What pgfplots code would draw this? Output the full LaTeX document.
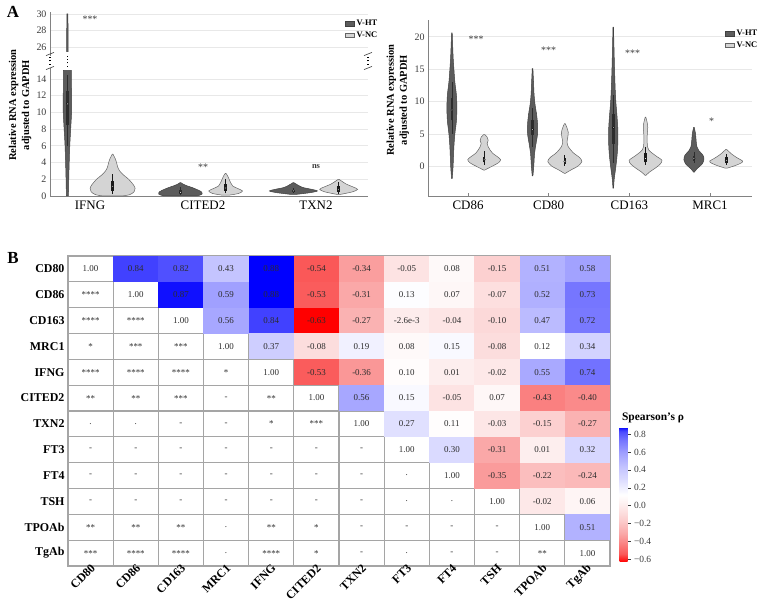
\documentclass[border=0pt]{standalone}
\usepackage{fontspec}
\setmainfont{Liberation Serif}
\usepackage{pgfplots}
\pgfplotsset{compat=1.18}
\usepackage{pgfplotstable}
\usepgfplotslibrary{fillbetween}

\definecolor{htfill}{RGB}{92,92,92}
\definecolor{htline}{RGB}{64,64,64}
\definecolor{htbox}{RGB}{45,45,45}
\definecolor{ncfill}{RGB}{212,212,212}
\definecolor{ncline}{RGB}{100,100,100}
\definecolor{ncbox}{RGB}{25,25,25}
\definecolor{tickgray}{RGB}{60,60,60}
\definecolor{spine}{RGB}{130,130,130}
\definecolor{gridgray}{RGB}{232,232,232}
\definecolor{cellline}{RGB}{165,165,165}
\definecolor{celltext}{RGB}{45,45,45}

% one heat-map cell, centred on its data point
\pgfdeclareplotmark{cell}{%
  \pgfpathrectangle{\pgfpoint{-22.6bp}{-12.95bp}}{\pgfpoint{45.2bp}{25.9bp}}%
  \pgfusepathqfill}

\pgfplotsset{
  colormap={rho}{rgb255(0pt)=(255,0,0) rgb255(9pt)=(250,88,88) rgb255(20pt)=(250,128,128)
    rgb255(32pt)=(250,168,168) rgb255(48pt)=(252,208,208) rgb255(63pt)=(253,236,236)
    rgb255(75pt)=(255,255,255) rgb255(93pt)=(218,218,255) rgb255(106pt)=(196,196,255)
    rgb255(122pt)=(160,160,255) rgb255(136pt)=(118,118,255) rgb255(145pt)=(80,80,255)
    rgb255(147pt)=(65,65,255) rgb255(151pt)=(0,0,255)},
  /pgf/number format/assume math mode=true,
  violinaxis/.style={
    scale only axis, anchor=south west,
    axis x line*=bottom, axis y line*=left,
    axis line style={spine, line width=0.6bp, -},
    ymajorgrids, grid style={gridgray, line width=0.7bp},
    xticklabel style={font=\fontsize{13}{14}\selectfont, text=black, yshift=-1bp},
    yticklabel style={font=\fontsize{10}{12}\selectfont, text=tickgray},
    ytick style={draw=none},
    xtick style={spine, line width=0.6bp}, xtick align=inside, major tick length=3bp,
    ylabel style={font=\bfseries\fontsize{10.5}{13}\selectfont, align=center, anchor=center},
    legend image code/.code={\draw[##1] (0bp,-2.3bp) rectangle (9bp,2.3bp);},
    legend style={draw=none, fill=none, font=\bfseries\fontsize{8.5}{9}\selectfont,
      inner sep=0pt, row sep=0.5bp, anchor=north west},
    legend cell align=left,
  },
}

% violin body: centre, profile table (y, half width), fill, outline, id
\newcommand{\violin}[5]{%
  \addplot[draw=none, smooth, name path=vr#5, forget plot] table[x expr={#1+\thisrow{w}}, y=y] {#2};
  \addplot[draw=none, smooth, name path=vl#5, forget plot] table[x expr={#1-\thisrow{w}}, y=y] {#2};
  \addplot[fill=#3, draw=#4, line width=0.5bp, forget plot] fill between[of=vr#5 and vl#5, reverse=true];
}
% inner box: centre, whisker low, q1, median, q3, whisker high, colour
\newcommand{\innerbox}[7]{%
  \addplot[#7, line width=0.7bp, forget plot] coordinates {(#1,#2) (#1,#6)};
  \addplot[#7, line width=2.6bp, forget plot] coordinates {(#1,#3) (#1,#5)};
  \addplot[only marks, mark=*, mark size=1.1bp, draw=none, fill=white, forget plot] coordinates {(#1,#4)};
}
% break symbol on a vertical spine at picture x position #1
\newcommand{\axisbreak}[1]{%
  \draw[tickgray, line width=0.6bp] (#1-4,538.4) -- (#1+4,541.6);
  \draw[tickgray, line width=0.6bp] (#1-4,552.4) -- (#1+4,555.6);
  \draw[black, line width=1.4bp, dash pattern=on 1.3bp off 2.2bp] (#1,543) -- (#1,552);
}

% ---------- violin profiles, left panel ----------
\pgfplotstableread{
y w
0 0.009
2 0.012
4 0.016
6 0.021
8 0.029
10 0.037
12 0.037
14 0.035
15 0.035
}\vIFNGht
\pgfplotstableread{
y w
25.5 0.006
28 0.006
30 0.004
}\vIFNGhtTop
\pgfplotstableread{
y w
0 0.08
0.15 0.15
0.5 0.19
0.9 0.199
1.3 0.186
2 0.142
2.5 0.097
3 0.062
3.5 0.044
4 0.035
4.5 0.022
5 0.003
}\vIFNGnc
\pgfplotstableread{
y w
0.02 0.15
0.2 0.19
0.5 0.186
0.8 0.142
1.0 0.106
1.2 0.062
1.4 0.027
1.6 0.003
}\vCITEDht
\pgfplotstableread{
y w
0.1 0.03
0.3 0.115
0.6 0.15
0.9 0.106
1.2 0.062
1.6 0.044
2.0 0.031
2.4 0.018
2.7 0.003
}\vCITEDnc
\pgfplotstableread{
y w
0.2 0.03
0.4 0.15
0.6 0.212
0.8 0.16
1.0 0.088
1.2 0.053
1.4 0.027
1.6 0.003
}\vTXNht
\pgfplotstableread{
y w
0.2 0.02
0.5 0.124
0.8 0.168
1.1 0.124
1.4 0.071
1.7 0.035
2.0 0.003
}\vTXNnc

% ---------- violin profiles, right panel ----------
\pgfplotstableread{
y w
-1.9 0.004
0 0.015
3 0.025
5 0.037
7 0.056
9 0.062
11 0.056
13 0.037
15 0.025
17 0.015
20.6 0.004
}\vCDEht
\pgfplotstableread{
y w
-0.6 0.006
0 0.099
0.5 0.173
1 0.204
1.5 0.161
2 0.105
2.5 0.074
3 0.05
3.5 0.037
4 0.05
4.5 0.037
4.9 0.006
}\vCDEnc
\pgfplotstableread{
y w
-1.5 0.004
0 0.015
2 0.025
3.5 0.043
5 0.062
6.5 0.062
8 0.05
9.5 0.031
11 0.019
13 0.012
15.1 0.004
}\vCDOht
\pgfplotstableread{
y w
-1.1 0.006
-0.5 0.087
0 0.161
0.7 0.211
1.3 0.186
2 0.112
2.5 0.074
3 0.043
3.7 0.027
4.5 0.037
5.2 0.043
6 0.025
6.6 0.004
}\vCDOnc
\pgfplotstableread{
y w
-3.4 0.004
-2 0.012
0 0.033
2 0.05
4 0.058
6 0.056
8 0.045
10 0.032
12 0.024
15 0.016
18 0.01
21.5 0.003
}\vCDTht
\pgfplotstableread{
y w
-1.4 0.006
-0.9 0.05
-0.3 0.12
0.3 0.18
0.9 0.204
1.5 0.14
2.0 0.085
2.5 0.04
3.0 0.025
4.0 0.02
5.0 0.022
6.0 0.028
6.8 0.02
7.3 0.01
7.6 0.003
}\vCDTnc
\pgfplotstableread{
y w
-0.9 0.006
-0.4 0.037
0.3 0.099
1 0.124
1.7 0.112
2.4 0.062
3 0.037
4 0.027
5 0.02
6 0.004
}\vMRCht
\pgfplotstableread{
y w
-0.3 0.012
0.1 0.112
0.5 0.186
0.8 0.204
1.2 0.149
1.6 0.099
2.0 0.056
2.3 0.031
2.6 0.004
}\vMRCnc

% ---------- Spearman correlations (upper triangle) ----------
\pgfplotstableread{
c r rho lab
1 0 0.84 0.84
2 0 0.82 0.82
3 0 0.43 0.43
4 0 0.88 0.88
5 0 -0.54 -0.54
6 0 -0.34 -0.34
7 0 -0.05 -0.05
8 0 0.08 0.08
9 0 -0.15 -0.15
10 0 0.51 0.51
11 0 0.58 0.58
2 1 0.87 0.87
3 1 0.59 0.59
4 1 0.88 0.88
5 1 -0.53 -0.53
6 1 -0.31 -0.31
7 1 0.13 0.13
8 1 0.07 0.07
9 1 -0.07 -0.07
10 1 0.52 0.52
11 1 0.73 0.73
3 2 0.56 0.56
4 2 0.84 0.84
5 2 -0.63 -0.63
6 2 -0.27 -0.27
7 2 -0.0026 -2.6e-3
8 2 -0.04 -0.04
9 2 -0.10 -0.10
10 2 0.47 0.47
11 2 0.72 0.72
4 3 0.37 0.37
5 3 -0.08 -0.08
6 3 0.19 0.19
7 3 0.08 0.08
8 3 0.15 0.15
9 3 -0.08 -0.08
10 3 0.12 0.12
11 3 0.34 0.34
5 4 -0.53 -0.53
6 4 -0.36 -0.36
7 4 0.10 0.10
8 4 0.01 0.01
9 4 -0.02 -0.02
10 4 0.55 0.55
11 4 0.74 0.74
6 5 0.56 0.56
7 5 0.15 0.15
8 5 -0.05 -0.05
9 5 0.07 0.07
10 5 -0.43 -0.43
11 5 -0.40 -0.40
7 6 0.27 0.27
8 6 0.11 0.11
9 6 -0.03 -0.03
10 6 -0.15 -0.15
11 6 -0.27 -0.27
8 7 0.30 0.30
9 7 -0.31 -0.31
10 7 0.01 0.01
11 7 0.32 0.32
9 8 -0.35 -0.35
10 8 -0.22 -0.22
11 8 -0.24 -0.24
10 9 -0.02 -0.02
11 9 0.06 0.06
11 10 0.51 0.51
}\rhotab

% ---------- diagonal and significance levels (lower triangle) ----------
\pgfplotstableread{
c r lab
0 0 1.00
1 1 1.00
2 2 1.00
3 3 1.00
4 4 1.00
5 5 1.00
6 6 1.00
7 7 1.00
8 8 1.00
9 9 1.00
10 10 1.00
11 11 1.00
0 1 ****
0 2 ****
1 2 ****
0 3 *
1 3 ***
2 3 ***
0 4 ****
1 4 ****
2 4 ****
3 4 *
0 5 **
1 5 **
2 5 ***
3 5 -
4 5 **
0 6 .
1 6 .
2 6 -
3 6 -
4 6 *
5 6 ***
0 7 -
1 7 -
2 7 -
3 7 -
4 7 -
5 7 -
6 7 -
0 8 -
1 8 -
2 8 -
3 8 -
4 8 -
5 8 -
6 8 -
7 8 .
0 9 -
1 9 -
2 9 -
3 9 -
4 9 -
5 9 -
6 9 -
7 9 .
8 9 .
0 10 **
1 10 **
2 10 **
3 10 .
4 10 **
5 10 *
6 10 -
7 10 -
8 10 -
9 10 -
0 11 ***
1 11 ****
2 11 ****
3 11 .
4 11 ****
5 11 *
6 11 -
7 11 .
8 11 -
9 11 -
10 11 **
}\sigtab

\begin{document}
\begin{tikzpicture}[x=1bp,y=1bp]
\node[font=\bfseries\fontsize{17}{17}\selectfont] at (13,596) {A};
\node[font=\bfseries\fontsize{17}{17}\selectfont] at (13,350) {B};

% ================= A, left, lower part: 0 to 15 =================
\begin{axis}[violinaxis,
  at={(50bp,412bp)}, width=318bp, height=128bp,
  xmin=-0.354, xmax=2.46, ymin=0, ymax=15.3,
  ytick={0,2,...,14},
  xtick={0,1,2}, xticklabels={IFNG,CITED2,TXN2},
  xtick style={draw=none},
  ylabel={Relative RNA expression\\adjusted to GAPDH},
  ylabel style={at={(axis description cs:-0.094,0.71)}},
  clip=false,
]
\violin{-0.2}{\vIFNGht}{htfill}{htline}{a}
\innerbox{-0.2}{6}{8.5}{11}{12.5}{14.5}{htbox}
\violin{0.2}{\vIFNGnc}{ncfill}{ncline}{c}
\innerbox{0.2}{0.2}{0.6}{1.1}{1.8}{2.6}{ncbox}
\violin{0.8}{\vCITEDht}{htfill}{htline}{d}
\innerbox{0.8}{0.1}{0.2}{0.4}{0.7}{1.1}{htbox}
\violin{1.2}{\vCITEDnc}{ncfill}{ncline}{e}
\innerbox{1.2}{0.3}{0.6}{0.95}{1.4}{2.0}{ncbox}
\violin{1.8}{\vTXNht}{htfill}{htline}{f}
\innerbox{1.8}{0.35}{0.45}{0.6}{0.75}{0.95}{htbox}
\violin{2.2}{\vTXNnc}{ncfill}{ncline}{g}
\innerbox{2.2}{0.2}{0.5}{0.8}{1.2}{1.7}{ncbox}

\node[font=\fontsize{10}{10}\selectfont, text=tickgray] at (axis cs:1,3.4) {**};
\node[font=\bfseries\fontsize{8.5}{9}\selectfont, text=tickgray] at (axis cs:2,3.5) {ns};
\end{axis}

% ================= A, left, upper part: 25 to 30 =================
\begin{axis}[violinaxis,
  at={(50bp,552.2bp)}, width=318bp, height=43.8bp,
  xmin=-0.354, xmax=2.46, ymin=25, ymax=30.23,
  hide x axis,
  ytick={26,28,30},
  legend style={at={(0.928,0.863)}},
]
\addlegendimage{fill=htfill, draw=htline}\addlegendentry{V-HT}
\addlegendimage{fill=ncfill, draw=ncline}\addlegendentry{V-NC}
\violin{-0.2}{\vIFNGhtTop}{htfill}{htline}{b}
\node[font=\fontsize{10}{10}\selectfont, text=tickgray] at (axis cs:0,29.4) {***};
\end{axis}

% broken-axis symbols and the hidden stretch of the IFNG violin
\axisbreak{50}
\axisbreak{368}
\draw[black, line width=1.4bp, dash pattern=on 1.3bp off 2.2bp] (67.4,541) -- (67.4,552);

% ================= A, right: CD86, CD80, CD163, MRC1 =================
\begin{axis}[violinaxis,
  at={(428bp,412bp)}, width=324bp, height=176bp,
  xmin=-0.496, xmax=3.52, ymin=-4.6, ymax=22.6,
  ytick={0,5,10,15,20},
  xtick={0,1,2,3}, xticklabels={CD86,CD80,CD163,MRC1},
  ylabel={Relative RNA expression\\adjusted to GAPDH},
  ylabel style={at={(axis description cs:-0.093,0.545)}},
  legend style={at={(0.917,0.955)}},
]
\addlegendimage{fill=htfill, draw=htline}\addlegendentry{V-HT}
\addlegendimage{fill=ncfill, draw=ncline}\addlegendentry{V-NC}

\violin{-0.2}{\vCDEht}{htfill}{htline}{h}
\innerbox{-0.2}{5}{7.1}{8.7}{10.5}{13}{htbox}
\violin{0.2}{\vCDEnc}{ncfill}{ncline}{i}
\innerbox{0.2}{0.2}{0.6}{1.0}{1.5}{2.3}{ncbox}
\violin{0.8}{\vCDOht}{htfill}{htline}{j}
\innerbox{0.8}{3}{4.8}{5.7}{7.2}{9}{htbox}
\violin{1.2}{\vCDOnc}{ncfill}{ncline}{k}
\innerbox{1.2}{0.1}{0.4}{0.75}{1.2}{1.8}{ncbox}
\violin{1.8}{\vCDTht}{htfill}{htline}{l}
\innerbox{1.8}{0.5}{3.5}{6.0}{8}{11}{htbox}
\violin{2.2}{\vCDTnc}{ncfill}{ncline}{m}
\innerbox{2.2}{0.2}{0.6}{1.2}{2.0}{3}{ncbox}
\violin{2.8}{\vMRCht}{htfill}{htline}{n}
\innerbox{2.8}{0.5}{0.85}{1.2}{1.6}{2.2}{htbox}
\violin{3.2}{\vMRCnc}{ncfill}{ncline}{o}
\innerbox{3.2}{0.2}{0.5}{0.9}{1.4}{1.9}{ncbox}

\node[font=\fontsize{10}{10}\selectfont, text=tickgray] at (axis cs:0.1,19.7) {***};
\node[font=\fontsize{10}{10}\selectfont, text=tickgray] at (axis cs:1,18.0) {***};
\node[font=\fontsize{10}{10}\selectfont, text=tickgray] at (axis cs:2.04,17.5) {***};
\node[font=\fontsize{10}{10}\selectfont, text=tickgray] at (axis cs:3.02,6.9) {*};
\end{axis}

% ================= B: correlation matrix =================
\begin{axis}[
  at={(68bp,42bp)}, anchor=south west, scale only axis, width=542bp, height=310bp,
  xmin=-0.5, xmax=11.5, ymin=-0.5, ymax=11.5, y dir=reverse,
  axis on top,
  axis line style={cellline, line width=1.2bp},
  xtick={0,...,11}, ytick={0,...,11},
  xticklabels={CD80,CD86,CD163,MRC1,IFNG,CITED2,TXN2,FT3,FT4,TSH,TPOAb,TgAb},
  yticklabels={CD80,CD86,CD163,MRC1,IFNG,CITED2,TXN2,FT3,FT4,TSH,TPOAb,TgAb},
  major tick length=0pt,
  minor xtick={0.5,1.5,...,10.5}, minor ytick={0.5,1.5,...,10.5},
  xminorgrids, yminorgrids, minor grid style={cellline, line width=1.2bp},
  minor tick length=0pt,
  xticklabel style={rotate=45, anchor=east, font=\bfseries\fontsize{12}{12}\selectfont, xshift=5bp, yshift=-2bp},
  yticklabel style={font=\bfseries\fontsize{12}{12}\selectfont},
  colormap name=rho, point meta min=-0.63, point meta max=0.88,
  colorbar,
  colorbar style={
    at={(parent axis.south east)}, anchor=south west, xshift=1bp, yshift=4bp,
    scale only axis, width=8bp, height=135bp,
    axis line style={draw=none},
    ytick={-0.6,-0.4,-0.2,0,0.2,0.4,0.6,0.8},
    yticklabels={−0.6,−0.4,−0.2,0.0,0.2,0.4,0.6,0.8},
    ytick pos=right, yticklabel pos=right, ytick align=outside,
    major tick length=3bp,
    ytick style={draw=tickgray, line width=0.5bp},
    yticklabel style={font=\fontsize{9.5}{10}\selectfont, text=tickgray},
    title={\bfseries Spearson's ρ},
    title style={at={(0,1)}, anchor=south west, xshift=-1bp, yshift=-5bp, font=\fontsize{11.5}{12}\selectfont},
  },
]
\addplot[scatter, only marks, mark=cell, scatter src=explicit,
  scatter/use mapped color={fill=mapped color, draw=none}]
  table[x=c, y=r, meta=rho] {\rhotab};
\addplot[only marks, mark=none, nodes near coords, point meta=explicit symbolic,
  nodes near coords align={center},
  every node near coord/.append style={font=\fontsize{9}{10}\selectfont, text=celltext, inner sep=0pt, anchor=center}]
  table[x=c, y=r, meta=lab] {\rhotab};
\addplot[only marks, mark=none, nodes near coords, point meta=explicit symbolic,
  nodes near coords align={center},
  every node near coord/.append style={font=\fontsize{9}{10}\selectfont, text=celltext, inner sep=0pt, anchor=center}]
  table[x=c, y=r, meta=lab] {\sigtab};
\end{axis}

\pgfresetboundingbox
\path[use as bounding box] (0,0) rectangle (767,608);
\end{tikzpicture}
\end{document}
